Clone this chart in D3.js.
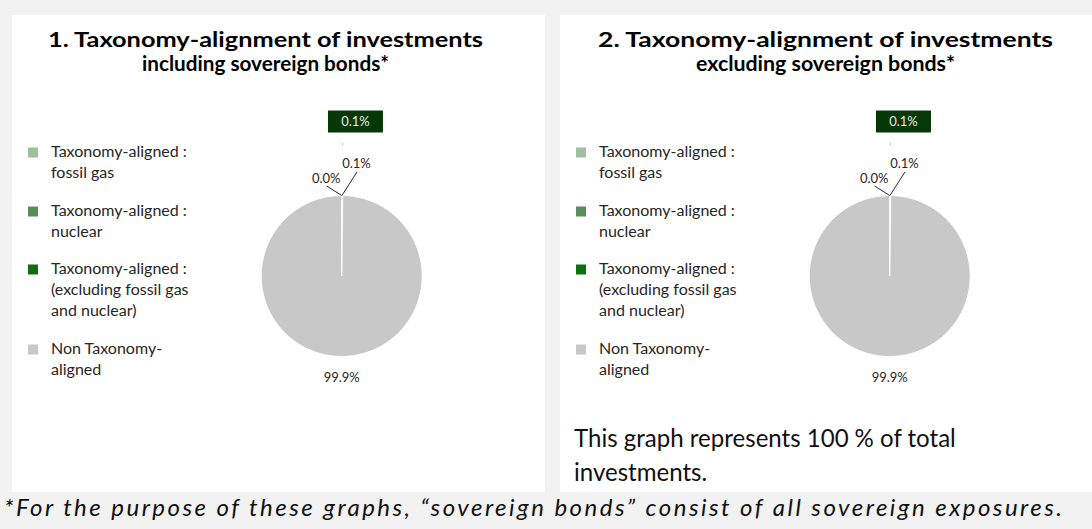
<!DOCTYPE html>
<html>
<head>
<meta charset="utf-8">
<script src="https://cdn.jsdelivr.net/npm/d3@7"></script>
<style>
  html, body { margin: 0; padding: 0; background: #f2f2f2; }
  svg { display: block; }
  text { font-family: Lato, "Open Sans", sans-serif; }
</style>
</head>
<body>
<svg id="chart" width="1092" height="529"></svg>
<script>
// Portfolio share by taxonomy category (percent of investments)
const categories = [
  "Taxonomy-aligned : fossil gas",
  "Taxonomy-aligned : nuclear",
  "Taxonomy-aligned : (excluding fossil gas and nuclear)",
  "Non Taxonomy-aligned"
];
const legendLines = [
  ["Taxonomy-aligned :", "fossil gas"],
  ["Taxonomy-aligned :", "nuclear"],
  ["Taxonomy-aligned :", "(excluding fossil gas", "and nuclear)"],
  ["Non Taxonomy-", "aligned"]
];
const colors = ["#9dc09d", "#5b8d5b", "#0f6f0f", "#c8c8c8"];
const inclSovereign = [0.0, 0.1, 0.1, 99.9];
const exclSovereign = [0.0, 0.1, 0.1, 99.9];
const titles = [
  ["1. Taxonomy-alignment of investments", "including sovereign bonds*"],
  ["2. Taxonomy-alignment of investments", "excluding sovereign bonds*"]
];
const coverageNote = ["This graph represents 100\u202F% of total", "investments."];
const footnote = "*For the purpose of these graphs, \u201Csovereign bonds\u201D consist of all sovereign exposures.";

const svg = d3.select("#chart");
const fmt = v => d3.format(".1f")(v) + "%";

// scale a text's font size so that it spans the given width
function fitWidth(sel, width) {
  const size = parseFloat(sel.attr("font-size"));
  const w = sel.node().getComputedTextLength();
  const s = size * width / w;
  sel.attr("font-size", s);
  return s;
}

const panels = [
  { x: 12,  w: 533, titleX: 265.5, values: inclSovereign, title: titles[0], titleW: [435, 247] },
  { x: 560, w: 532, titleX: 825.5, values: exclSovereign, title: titles[1], titleW: [455, 259] }
];

const pie = d3.pie().sort(null).value(d => d);
const R = 80.5;
const arc = d3.arc().innerRadius(0).outerRadius(R);

panels.forEach((p, pi) => {
  const g = svg.append("g").attr("transform", `translate(${p.x},15)`);
  g.append("rect").attr("width", p.w).attr("height", 477).attr("fill", "#ffffff");

  // two-line bold title, narrowed to the set line widths
  p.title.forEach((line, i) => {
    g.append("text")
      .attr("x", p.titleX - p.x).attr("y", i === 0 ? 32 : 56)
      .attr("text-anchor", "middle")
      .attr("font-size", 21).attr("font-weight", 700).attr("fill", "#000")
      .attr("textLength", p.titleW[i]).attr("lengthAdjust", "spacingAndGlyphs")
      .text(line);
  });

  // legend
  const legendTop = [142, 201, 259, 339];
  let legendSize = null;
  legendLines.forEach((lines, i) => {
    const lg = g.append("g").attr("transform", `translate(16,${legendTop[i]})`);
    lg.append("rect").attr("x", 0).attr("y", -9.5).attr("width", 10).attr("height", 10)
      .attr("fill", colors[i]);
    const txt = lg.append("text").attr("x", 23).attr("y", 0)
      .attr("font-size", 14).attr("fill", "#262626");
    lines.forEach((l, j) => txt.append("tspan").attr("x", 23).attr("dy", j === 0 ? 0 : 21).text(l));
    if (legendSize === null) {
      const probe = g.append("text").attr("font-size", 14).text(lines[0]);
      legendSize = fitWidth(probe, 136);
      probe.remove();
    }
    txt.attr("font-size", legendSize);
  });

  // pie
  const cx = 329.7, cy = 261;
  const pg = g.append("g").attr("transform", `translate(${cx},${cy})`);
  const arcs = pie(p.values);
  pg.selectAll("path").data(arcs).join("path")
    .attr("d", arc)
    .attr("fill", (d, i) => colors[i])
    .attr("stroke", "#ffffff").attr("stroke-width", 1);

  // labels for the thin slices near the top of the pie
  const edge = d => {
    const a = (d.startAngle + d.endAngle) / 2;
    return [R * Math.sin(a), -R * Math.cos(a)];
  };
  // fossil gas: left leader
  {
    const [ex, ey] = edge(arcs[0]);
    pg.append("path").attr("d", `M${ex},${ey}L${ex - 15},${ey - 9.5}`)
      .attr("stroke", "#262626").attr("stroke-width", 1).attr("fill", "none");
    pg.append("text").attr("x", ex - 15.5).attr("y", ey - 13)
      .attr("text-anchor", "middle").attr("font-size", 13).attr("fill", "#262626")
      .text(fmt(arcs[0].data));
  }
  // nuclear: right leader
  {
    const [ex, ey] = edge(arcs[1]);
    pg.append("path").attr("d", `M${ex},${ey}L${ex + 15},${ey - 23.5}`)
      .attr("stroke", "#262626").attr("stroke-width", 1).attr("fill", "none");
    pg.append("text").attr("x", ex + 14.5).attr("y", ey - 27.5)
      .attr("text-anchor", "middle").attr("font-size", 13).attr("fill", "#262626")
      .text(fmt(arcs[1].data));
  }
  // aligned excluding gas and nuclear: filled label box
  {
    const [ex, ey] = edge(arcs[2]);
    pg.append("rect").attr("x", ex - 0.5).attr("y", ey - 52).attr("width", 1).attr("height", 1)
      .attr("fill", "#6e8f6e");
    pg.append("rect").attr("x", ex - 14.5).attr("y", ey - 85).attr("width", 55).attr("height", 22)
      .attr("fill", "#063806");
    pg.append("text").attr("x", ex + 13).attr("y", ey - 69.5)
      .attr("text-anchor", "middle").attr("font-size", 13).attr("fill", "#e8e8e8")
      .text(fmt(arcs[2].data));
  }
  // large slice label below the pie
  pg.append("text").attr("x", 0).attr("y", R + 25.5)
    .attr("text-anchor", "middle").attr("font-size", 13).attr("fill", "#262626")
    .text(fmt(arcs[3].data));

  if (pi === 1) {
    const n1 = g.append("text").attr("x", 14).attr("y", 432)
      .attr("font-size", 21).attr("fill", "#111")
      .text(coverageNote[0]);
    const ns = fitWidth(n1, 382);
    g.append("text").attr("x", 14).attr("y", 466)
      .attr("font-size", ns).attr("fill", "#111")
      .text(coverageNote[1]);
  }
});

svg.append("text").attr("x", 4).attr("y", 516)
  .attr("font-size", 24).attr("font-style", "italic").attr("fill", "#111")
  .attr("textLength", 1058).attr("lengthAdjust", "spacing")
  .text(footnote);
</script>
</body>
</html>
